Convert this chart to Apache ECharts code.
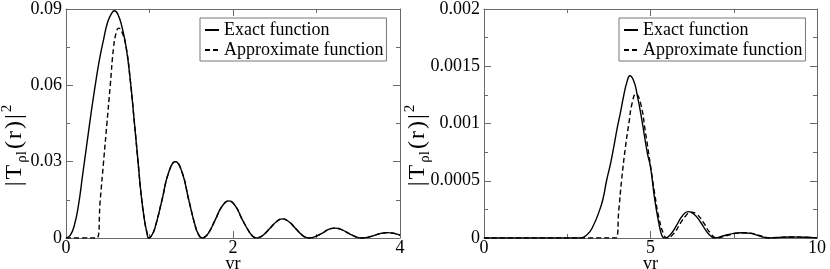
<!DOCTYPE html>
<html>
<head>
<meta charset="utf-8">
<script src="https://cdn.jsdelivr.net/npm/echarts@6/dist/echarts.min.js"></script>
<style>
html,body{margin:0;padding:0;background:#fff;}
#chart{width:830px;height:269px;}
</style>
</head>
<body>
<div id="chart"></div>
<script>
// ---------- data ----------
const seriesNames = ['Exact function', 'Approximate function'];

// left panel
const leftExactX = [0,0.05,0.1,0.15,0.2,0.25,0.3,0.35,0.4,0.45,0.5,0.55,0.58,0.62,0.67,0.72,0.77,0.82,0.86,0.9,0.94,0.97,0.99,
  1.03,1.07,1.15,1.23,1.31,1.39,1.47,1.55,1.59,1.63,
  1.67,1.71,1.79,1.87,1.95,2.03,2.11,2.2,2.24,2.28,
  2.32,2.36,2.44,2.52,2.59,2.67,2.75,2.83,2.87,2.91,
  2.95,2.99,3.07,3.14,3.22,3.3,3.38,3.46,3.5,3.54,
  3.58,3.62,3.7,3.77,3.85,3.93,4.0];
const leftExactY = [0,0.001,0.005,0.013,0.025,0.037,0.049,0.06,0.07,0.078,0.085,0.0885,0.0893,0.088,0.083,0.075,0.062,0.045,0.031,0.017,0.007,0.002,0,
  0.0012,0.0045,0.015,0.0258,0.030,0.0258,0.015,0.0045,0.0012,0,
  0.0006,0.0021,0.0073,0.0125,0.0146,0.0125,0.0073,0.0021,0.0006,0,
  0.0003,0.0011,0.0037,0.0064,0.0075,0.0064,0.0037,0.0011,0.0003,0,
  0.00015,0.0006,0.0019,0.0033,0.0039,0.0033,0.0019,0.0006,0.00015,0,
  0.0001,0.0003,0.0011,0.0018,0.0021,0.0018,0.0011];

const leftApproxX = [0,0.37,0.41,0.45,0.49,0.53,0.57,0.6,0.63,0.67,0.72,0.77,0.82,0.86,0.9,0.94,0.97,0.99,
  1.03,1.07,1.15,1.23,1.31,1.39,1.47,1.55,1.59,1.63,
  1.67,1.71,1.79,1.87,1.95,2.03,2.11,2.2,2.24,2.28,
  2.32,2.36,2.44,2.52,2.59,2.67,2.75,2.83,2.87,2.91,
  2.95,2.99,3.07,3.14,3.22,3.3,3.38,3.46,3.5,3.54,
  3.58,3.62,3.7,3.77,3.85,3.93,4.0];
const leftApproxY = [0,0,0.015,0.03,0.045,0.06,0.075,0.0805,0.0825,0.081,0.075,0.062,0.045,0.031,0.017,0.007,0.002,0,
  0.0012,0.0045,0.015,0.0258,0.030,0.0258,0.015,0.0045,0.0012,0,
  0.0006,0.0021,0.0073,0.0125,0.0146,0.0125,0.0073,0.0021,0.0006,0,
  0.0003,0.0011,0.0037,0.0064,0.0075,0.0064,0.0037,0.0011,0.0003,0,
  0.00015,0.0006,0.0019,0.0033,0.0039,0.0033,0.0019,0.0006,0.00015,0,
  0.0001,0.0003,0.0011,0.0018,0.0021,0.0018,0.0011];

// right panel
const rightExactX = [0,2.88,3.1,3.27,3.48,3.58,3.68,3.8,3.9,4.0,4.1,4.2,4.3,4.38,4.5,4.6,4.73,4.9,5.0,5.13,5.25,5.32,5.38,
  5.43,5.6,5.8,5.95,6.13,6.3,6.5,6.7,6.85,6.93,
  7.2,7.5,7.73,8.0,8.3,8.53,8.8,9.2,9.6,10];
const rightExactY = [0,0,0.00003,0.0001,0.00025,0.00035,0.0005,0.00065,0.0008,0.00096,0.0011,0.00125,0.00137,0.001417,0.00137,0.00125,0.00105,0.00075,0.00062,0.00033,0.00013,0.00004,0.000005,
  0,0.00003,0.00012,0.00019,0.00023,0.00021,0.00014,0.00005,0.000008,0,
  0.00002,0.00004,0.000046,0.00004,0.000015,0,0.000004,0.000009,0.000006,0.000001];

const rightApproxX = [0,3.96,4.05,4.13,4.25,4.35,4.45,4.56,4.7,4.85,5.0,5.13,5.25,5.4,5.5,
  5.7,5.9,6.05,6.2,6.38,6.58,6.78,7.0,
  7.27,7.55,7.78,8.05,8.35,8.58,8.85,9.25,9.65,10];
const rightApproxY = [0,0,0.00025,0.0005,0.0008,0.001,0.00118,0.001258,0.00118,0.00092,0.00063,0.00038,0.00018,0.00003,0,
  0.00004,0.00013,0.00019,0.000225,0.00021,0.00014,0.00005,0,
  0.00002,0.00004,0.000046,0.00004,0.000015,0,0.000004,0.000009,0.000006,0.000001];

const leftXTicks = ['0','2','4'];
const leftYTicks = ['0','0.03','0.06','0.09'];
const rightXTicks = ['0','5','10'];
const rightYTicks = ['0','0.0005','0.001','0.0015','0.002'];
const yAxisName = '{a||}{a|T}{sub|ρl}{a|(}{a|r}{a|)}{a||}{sup|2}';
const xAxisName = 'vr';

// ---------- chart ----------
const FONT = "'Liberation Serif','Times New Roman',serif";
const AX = '#6a6a6a';
function pairs(xs, ys){ return xs.map((x,i)=>[x, ys[i]]); }
function labelFrom(list, min, step){ return v => { const i = Math.round((v-min)/step); return list[i] !== undefined ? list[i] : ''; }; }

function xAxes(gridIndex, max, interval, ticks){
  const common = {
    type:'value', gridIndex, min:0, max, interval,
    axisLine:{show:true, onZero:false, lineStyle:{color:AX, width:1}},
    axisTick:{show:true, inside:true, length:7, lineStyle:{color:AX}},
    minorTick:{show:true, splitNumber:2, length:4, lineStyle:{color:AX}},
    splitLine:{show:false}, minorSplitLine:{show:false}
  };
  return [
    Object.assign({}, common, {position:'bottom',
      axisLabel:{show:true, margin:1, fontFamily:FONT, fontSize:18, color:'#000', formatter: labelFrom(ticks, 0, interval)},
      name:xAxisName, nameLocation:'middle', nameGap:17, nameMoveOverlap:false,
      nameTextStyle:{fontFamily:FONT, fontSize:18, color:'#000', lineHeight:18, verticalAlign:'top'}}),
    Object.assign({}, common, {position:'top', axisLabel:{show:false}})
  ];
}
function yAxes(gridIndex, max, interval, ticks, nameGap){
  const common = {
    type:'value', gridIndex, min:0, max, interval,
    axisLine:{show:true, onZero:false, lineStyle:{color:AX, width:1}},
    axisTick:{show:true, inside:true, length:7, lineStyle:{color:AX}},
    minorTick:{show:true, splitNumber:2, length:4, lineStyle:{color:AX}},
    splitLine:{show:false}, minorSplitLine:{show:false}
  };
  return [
    Object.assign({}, common, {position:'left',
      axisLabel:{show:true, margin:4, fontFamily:FONT, fontSize:18, color:'#000', formatter: labelFrom(ticks, 0, interval)},
      name:yAxisName, nameLocation:'middle', nameRotate:90, nameGap, nameMoveOverlap:false,
      nameTextStyle:{fontFamily:FONT, fontSize:24, color:'#000', lineHeight:30, padding:[0,44,0,0],
        rich:{
          a:{fontFamily:FONT, fontSize:24, lineHeight:30, padding:[0,1], color:'#000'},
          sub:{fontFamily:FONT, fontSize:15, lineHeight:15, verticalAlign:'bottom', padding:[0,1], color:'#000'},
          sup:{fontFamily:FONT, fontSize:15, lineHeight:15, verticalAlign:'top', padding:[0,1], color:'#000'}
        }}}),
    Object.assign({}, common, {position:'right', axisLabel:{show:false}})
  ];
}

function lineSeries(name, data, xi, yi, dashed){
  return {
    name, type:'line', xAxisIndex:xi, yAxisIndex:yi, data,
    showSymbol:false, symbol:'none', smooth:0.5, animation:false, silent:true,
    lineStyle:{color:'#000', width:1.4, type: dashed ? [5,3] : 'solid'},
    itemStyle:{color:'#000'}
  };
}

function legendAt(left){
  return {
    left, top:18, orient:'vertical', data:seriesNames,
    itemWidth:14, itemHeight:12, itemGap:2,
    padding:[3,3,2,4],
    borderColor:'#777', borderWidth:1, borderRadius:0,
    itemStyle:{opacity:0},
    textStyle:{fontFamily:FONT, fontSize:18, color:'#000', lineHeight:14},
    selectedMode:false
  };
}

const chart = echarts.init(document.getElementById('chart'), null, {renderer:'canvas'});
chart.setOption({
  backgroundColor:'#fff',
  animation:false,
  grid:[
    {left:66, top:9, width:334, height:229, containLabel:false, outerBoundsMode:'none'},
    {left:484, top:9, width:333, height:229, containLabel:false, outerBoundsMode:'none'}
  ],
  xAxis:[].concat(xAxes(0, 4, 2, leftXTicks), xAxes(1, 10, 5, rightXTicks)),
  yAxis:[].concat(yAxes(0, 0.09, 0.03, leftYTicks, 36), yAxes(1, 0.002, 0.0005, rightYTicks, 51)),
  legend:[legendAt(200), legendAt(619)],
  series:[
    lineSeries(seriesNames[0], pairs(leftExactX, leftExactY), 0, 0, false),
    lineSeries(seriesNames[1], pairs(leftApproxX, leftApproxY), 0, 0, true),
    lineSeries(seriesNames[0], pairs(rightExactX, rightExactY), 2, 2, false),
    lineSeries(seriesNames[1], pairs(rightApproxX, rightApproxY), 2, 2, true)
  ]
});
</script>
</body>
</html>
